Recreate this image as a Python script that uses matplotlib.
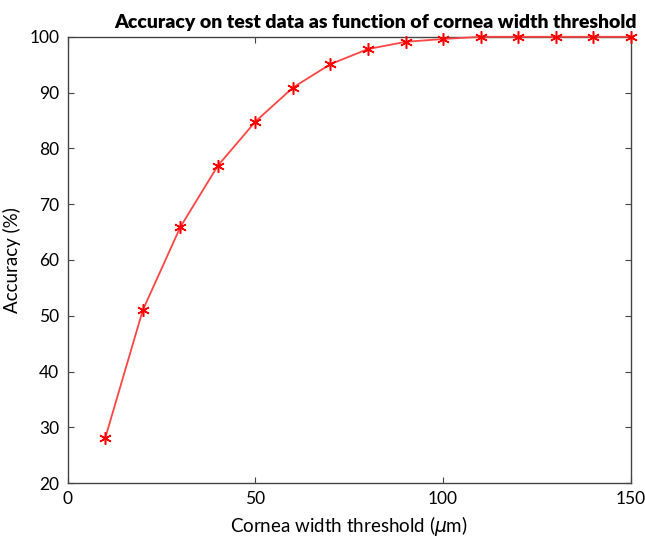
import matplotlib
matplotlib.use("Agg")
import matplotlib.pyplot as plt

plt.rcParams.update({
    "font.family": ["Lato", "DejaVu Sans"],
    "font.size": 13,
    "mathtext.fontset": "dejavusans",
})

thresholds = [10, 20, 30, 40, 50, 60, 70, 80, 90, 100, 110, 120, 130, 140, 150]
accuracy = [28.1, 51.0, 65.9, 76.9, 84.8, 90.9, 95.1, 97.8, 99.1, 99.6,
            100, 100, 100, 100, 100]

fig = plt.figure(figsize=(6.45, 5.41), dpi=100, facecolor="white")
ax = fig.add_axes([0.105, 0.107, 0.873, 0.825])

ax.plot(thresholds, accuracy, color="#ff4444", lw=1.3,
        marker=(6, 2, 0), markersize=9, markeredgewidth=1.1,
        markeredgecolor="#ff0000", clip_on=False, zorder=3)

ax.set_xlim(0, 150)
ax.set_ylim(20, 100)
ax.set_xticks([0, 50, 100, 150])
ax.set_yticks(range(20, 101, 10))
ax.tick_params(direction="in", top=True, right=True, length=4,
               width=0.8, color="#444444", labelsize=12.5, pad=6)
for s in ax.spines.values():
    s.set_color("#444444")
    s.set_linewidth(1.0)

ax.set_xlabel(r"Cornea width threshold ($\mu$m)", fontsize=13.5, labelpad=5)
ax.set_ylabel("Accuracy (%)", fontsize=13.5, labelpad=6)
fig.text(0.987, 0.958,
         "Accuracy on test data as function of cornea width threshold",
         fontsize=14, fontweight="heavy", ha="right", va="center")

fig.savefig("out.png", dpi=100, facecolor="white")
